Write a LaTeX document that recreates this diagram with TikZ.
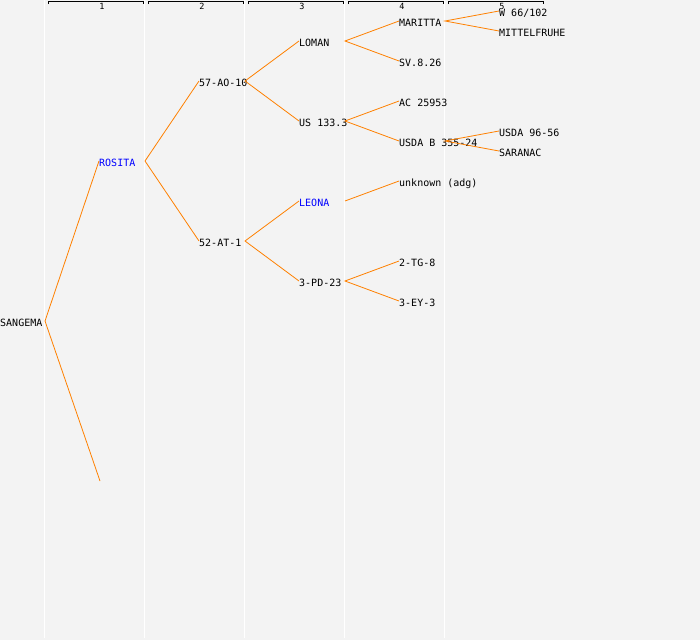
\documentclass[tikz,border=0pt]{standalone}
\usepackage{fontspec}
\newfontfamily\monofont{DejaVu Sans Mono}
\definecolor{bgc}{HTML}{F3F3F3}
\definecolor{edgec}{HTML}{FF8000}
\definecolor{bluec}{HTML}{0000FF}
\begin{document}
\begin{tikzpicture}[x=1pt,y=-1pt,
  lbl/.style={anchor=west,inner sep=0pt,text height=11pt,text depth=0pt,font=\monofont\fontsize{10}{11}\selectfont,text=black},
  blbl/.style={lbl,text=bluec},
  edge/.style={draw=edgec,line width=0.8pt},
  sep/.style={draw=white,line width=1pt},
  bracket/.style={draw=black,line width=0.9pt},
  collbl/.style={inner sep=0pt,font=\monofont\fontsize{8.5}{9}\selectfont}]
\useasboundingbox[fill=bgc] (0,0) rectangle (700,640);
% column separators
\foreach \i in {0,...,4}{
  \draw[sep] (44.5+100*\i,0) -- (44.5+100*\i,638);
}
% column headers
\foreach \i in {1,...,5}{
  \draw[bracket] (100*\i-52,4) -- (100*\i-52,1.5) -- (100*\i+43,1.5) -- (100*\i+43,4);
  \node[collbl] (col\i) at (100*\i+2,6.5) {\i};
}
% nodes
\node[lbl] (sangema) at (0,321) {SANGEMA};
\node[blbl] (rosita) at (99,161) {ROSITA};
\node[lbl] (ao) at (199,81) {57-AO-10};
\node[lbl] (at) at (199,241) {52-AT-1};
\node[lbl] (loman) at (299,41) {LOMAN};
\node[lbl] (us) at (299,121) {US 133.3};
\node[blbl] (leona) at (299,201) {LEONA};
\node[lbl] (pd) at (299,281) {3-PD-23};
\node[lbl] (maritta) at (399,21) {MARITTA};
\node[lbl] (sv) at (399,61) {SV.8.26};
\node[lbl] (ac) at (399,101) {AC 25953};
\node[lbl] (usdab) at (399,141) {USDA B 355-24};
\node[lbl] (unknown) at (399,181) {unknown (adg)};
\node[lbl] (tg) at (399,261) {2-TG-8};
\node[lbl] (ey) at (399,301) {3-EY-3};
\node[lbl] (w66) at (499,11) {W 66/102};
\node[lbl] (mittel) at (499,31) {MITTELFRUHE};
\node[lbl] (usda96) at (499,131) {USDA 96-56};
\node[lbl] (saranac) at (499,151) {SARANAC};
% branch points
\coordinate (sangema-o) at (45,321);
\coordinate (rosita-o) at (145,161);
\coordinate (ao-o) at (245,81);
\coordinate (at-o) at (245,241);
\coordinate (loman-o) at (345,41);
\coordinate (us-o) at (345,121);
\coordinate (leona-o) at (345,201);
\coordinate (pd-o) at (345,281);
\coordinate (maritta-o) at (445,21);
\coordinate (usdab-o) at (445,141);
\coordinate (missing) at (100,481);
% connectors
\draw[edge] (rosita.west) -- (sangema-o) -- (missing);
\draw[edge] (ao.west) -- (rosita-o) -- (at.west);
\draw[edge] (loman.west) -- (ao-o) -- (us.west);
\draw[edge] (leona.west) -- (at-o) -- (pd.west);
\draw[edge] (maritta.west) -- (loman-o) -- (sv.west);
\draw[edge] (ac.west) -- (us-o) -- (usdab.west);
\draw[edge] (leona-o) -- (unknown.west);
\draw[edge] (tg.west) -- (pd-o) -- (ey.west);
\draw[edge] (w66.west) -- (maritta-o) -- (mittel.west);
\draw[edge] (usda96.west) -- (usdab-o) -- (saranac.west);
\end{tikzpicture}
\end{document}
